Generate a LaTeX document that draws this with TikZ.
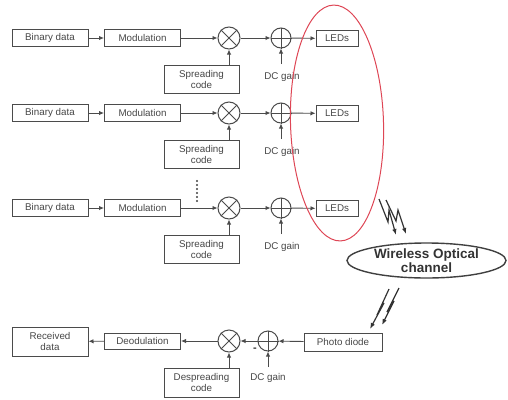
\documentclass[tikz,border=0pt]{standalone}
\usepackage{fontspec}
\setmainfont{Liberation Sans}
\usetikzlibrary{arrows.meta,shapes.geometric}
\definecolor{linegray}{RGB}{75,75,75}
\definecolor{textgray}{RGB}{70,70,70}
\definecolor{ringred}{RGB}{222,70,85}
\newcommand\mulnode[2]{%
  \node[mixer] (#1) at (#2) {};
  \draw[mixline] (#1.north west) -- (#1.south east) (#1.north east) -- (#1.south west);}
\newcommand\addnode[2]{%
  \node[adder] (#1) at (#2) {};
  \draw[mixline] (#1.north) -- (#1.south) (#1.east) -- (#1.west);}
\begin{document}
\begin{tikzpicture}[x=1pt,y=-1pt,
  box/.style={draw=linegray, line width=1pt, inner sep=0pt, align=center,
    font=\fontsize{9.8}{11}\selectfont, text=textgray},
  wide/.style={box, minimum width=76pt},
  code/.style={box, minimum width=75pt, minimum height=28pt},
  mixer/.style={circle, draw=linegray, line width=1pt, minimum size=22pt, inner sep=0pt},
  adder/.style={circle, draw=linegray, line width=1pt, minimum size=20pt, inner sep=0pt},
  mixline/.style={draw=linegray, line width=0.8pt},
  flow/.style={draw=linegray, line width=0.9pt, -{Latex[length=5pt,width=4.5pt]}},
  lbl/.style={font=\fontsize{9.8}{11}\selectfont, text=textgray},
  bolt/.style={draw=black!80, line width=1.2pt, line join=miter, -{Latex[length=6pt,width=4.5pt]}}
]
\useasboundingbox (0,0) rectangle (508,399);

% transmitter branches
\foreach \r/\y in {1/38,2/113,3/208}{
  \node[wide, minimum height=17pt] (bin\r) at (50,\y) {Binary data};
  \node[wide, minimum height=17pt] (mod\r) at (142.5,\y) {Modulation};
  \mulnode{mul\r}{229,\y}
  \addnode{add\r}{281,\y}
  \node[box, minimum width=42pt, minimum height=16pt] (led\r) at (337,\y+0.5) {LEDs};
  \node[code] (spr\r) at (201.5,\y+41.5) {Spreading\\code};
  \node[lbl] (dc\r) at (282,\y+39) {DC gain};
  \coordinate (dcin\r) at (281,\y+26);
  \draw[flow] (bin\r) -- (mod\r);
  \draw[flow] (mod\r) -- (mul\r);
  \draw[flow] (mul\r) -- (add\r);
  \draw[flow] (add\r) -- (led\r);
  \draw[flow] (spr\r.north -| mul\r) -- (mul\r);
  \draw[flow] (dcin\r) -- (add\r);
}

% omitted branches
\foreach \d in {0,...,5}
  \fill[black!75] (197,181+4*\d) circle (1.1pt);

% LED array outline
\draw[ringred, line width=1pt, rotate around={1.7:(337,123)}] (337,123) ellipse (46.5pt and 118pt);

% optical channel
\node[draw=black!75, line width=1.4pt, ellipse, minimum width=159pt, minimum height=35pt,
  inner sep=0pt, align=center, font=\fontsize{13.5}{13.5}\selectfont\bfseries, text=black!80]
  (chan) at (426.5,260.5) {Wireless Optical\\channel};

% light emission towards the channel
\draw[bolt] (379,199) -- (388,222) -- (389,210) -- (396,235);
\draw[bolt] (386,200) -- (396,221) -- (398,210) -- (406,234);

% light arriving at the detector
\draw[bolt] (389,289) -- (377,315) -- (384,303) -- (370,329);
\draw[bolt] (399,288) -- (387,312) -- (394,301) -- (382,325);

% receiver
\node[box, minimum width=78pt, minimum height=18pt] (pd) at (343,342) {Photo diode};
\addnode{radd}{268,341}
\mulnode{rmul}{229,341}
\node[wide, minimum height=16pt] (dem) at (142.5,341) {Deodulation};
\node[wide, minimum height=29pt] (rx) at (50,341.5) {Received\\data};
\node[code, minimum height=29pt] (dspr) at (201.5,382.5) {Despreading\\code};
\node[lbl] (rdc) at (268,378) {DC gain};
\node[font=\bfseries\fontsize{11}{11}\selectfont, text=black!80] (minus) at (255,349.5) {-};
\coordinate (rdcin) at (268,367);
\draw[flow] (pd) -- (radd);
\draw[flow] (radd) -- (rmul);
\draw[flow] (rmul) -- (dem);
\draw[flow] (dem) -- (rx);
\draw[flow] (dspr.north -| rmul) -- (rmul);
\draw[flow] (rdcin) -- (radd);
\end{tikzpicture}
\end{document}
